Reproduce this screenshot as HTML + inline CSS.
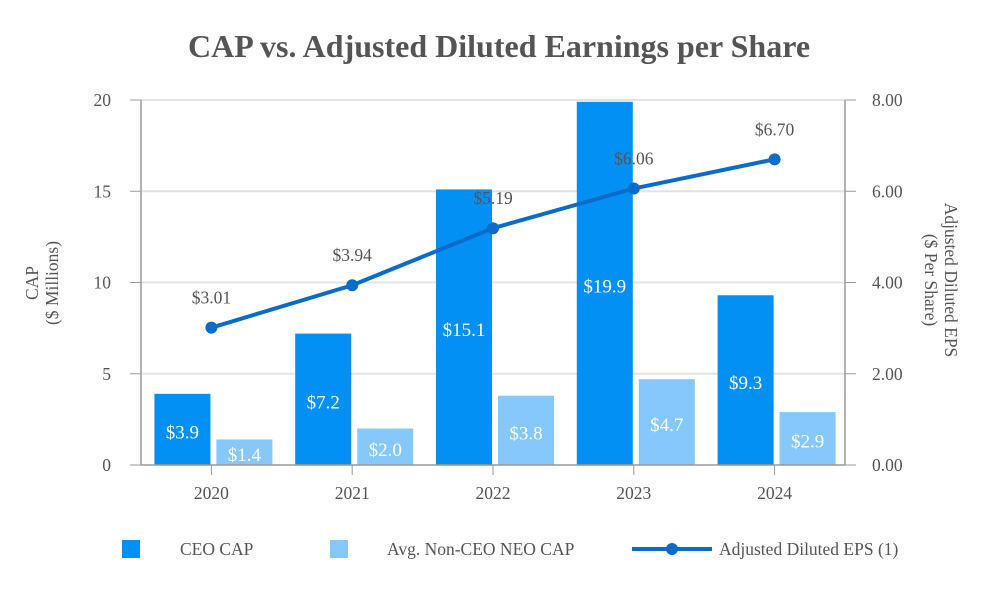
<!DOCTYPE html>
<html><head><meta charset="utf-8"><style>
body{margin:0;background:#fff;}
svg text{font-family:"Liberation Serif",serif;}
</style></head><body>
<svg id="chart" width="1000" height="600">
<text x="499" y="57" text-anchor="middle" font-size="32" font-weight="bold" fill="#555">CAP vs. Adjusted Diluted Earnings per Share</text>
<g id="grid"></g>
<g id="bars"></g>
<g id="line"></g>
<g id="axes"></g>
<text transform="translate(42,283) rotate(-90)" text-anchor="middle" font-size="17.5" fill="#555"><tspan x="0" dy="-4">CAP</tspan><tspan x="0" dy="20">($ Millions)</tspan></text>
<text transform="translate(945,280) rotate(90)" text-anchor="middle" font-size="17.5" fill="#555"><tspan x="0" dy="0">Adjusted Diluted EPS</tspan><tspan x="0" dy="20">($ Per Share)</tspan></text>
<g>
<rect x="122" y="540" width="18" height="18" fill="#0390f5"/>
<text x="180" y="555" font-size="17.5" fill="#555">CEO CAP</text>
<rect x="330" y="540" width="18" height="18" fill="#86c8fb"/>
<text x="387" y="555" font-size="17.5" fill="#555">Avg. Non-CEO NEO CAP</text>
<line x1="632" y1="549" x2="712" y2="549" stroke="#0a6bc9" stroke-width="4"/>
<circle cx="672" cy="549" r="6" fill="#0a6bc9"/>
<text x="719" y="555" font-size="17.5" fill="#555">Adjusted Diluted EPS (1)</text>
</g>
</svg>
<script>
const categories=["2020","2021","2022","2023","2024"];
const ceoCap=[3.9,7.2,15.1,19.9,9.3];
const neoCap=[1.4,2.0,3.8,4.7,2.9];
const eps=[3.01,3.94,5.19,6.06,6.70];
const leftTicks=[0,5,10,15,20];
const rightTicks=["0.00","2.00","4.00","6.00","8.00"];
const NS="http://www.w3.org/2000/svg";
const X0=141,X1=845,Y0=465,Y1=100;
const step=(X1-X0)/categories.length;
const xc=i=>X0+step*(i+0.5);
const yL=v=>Y0-(v/20)*(Y0-Y1);
const yR=v=>Y0-(v/8)*(Y0-Y1);
function el(tag,attrs,parent,text){const e=document.createElementNS(NS,tag);for(const k in attrs)e.setAttribute(k,attrs[k]);if(text!=null)e.textContent=text;document.getElementById(parent).appendChild(e);return e;}
leftTicks.forEach((t,i)=>{
 const y=yL(t);
 if(t>0){const g=el('line',{x1:X0,x2:X1,y1:y,y2:y,stroke:'#e3e3e3','stroke-width':2},'grid');
 
 }
 const tk=el('line',{x1:X0-11,x2:X0,y1:y,y2:y,stroke:'#999','stroke-width':1},'axes');
 
 
 const l=el('text',{x:X0-30,y:y+6,'text-anchor':'end','font-size':17.5,fill:'#555'},'axes',t);
 
 
});
rightTicks.forEach((t)=>{
 const y=yR(parseFloat(t));
 const tk=el('line',{x1:X1,x2:X1+11,y1:y,y2:y,stroke:'#999','stroke-width':1},'axes');
 
 
 const l=el('text',{x:X1+27,y:y+6,'font-size':17.5,fill:'#555'},'axes',t);
 
 
});
const bw=56,gap=6;
categories.forEach((c,i)=>{
 const cx=xc(i);
 const r1=el('rect',{x:cx-bw-1,y:yL(ceoCap[i]),width:bw,height:Y0-yL(ceoCap[i]),fill:'#0390f5'},'bars');
 
 
 const t1=el('text',{x:cx-bw/2-1,y:(yL(ceoCap[i])+Y0)/2+9,'text-anchor':'middle','font-size':19,fill:'#fff'},'bars','$'+ceoCap[i].toFixed(1));
 
 
 const r2=el('rect',{x:cx+gap-1,y:yL(neoCap[i]),width:bw,height:Y0-yL(neoCap[i]),fill:'#86c8fb'},'bars');
 
 
 const t2=el('text',{x:cx+gap-1+bw/2,y:(yL(neoCap[i])+Y0)/2+9,'text-anchor':'middle','font-size':19,fill:'#fff'},'bars','$'+neoCap[i].toFixed(1));
 
 
 const tk=el('line',{x1:cx,x2:cx,y1:Y0,y2:Y0+10,stroke:'#999'},'axes');
 
 
 const xl=el('text',{x:cx,y:Y0+34,'text-anchor':'middle','font-size':17.5,fill:'#555'},'axes',c);
 
 
});
const ax=[[X0,Y1,X0,Y0],[X1,Y1,X1,Y0],[X0,Y0,X1,Y0]];
ax.forEach(a=>{const l=el('line',{x1:a[0],y1:a[1],x2:a[2],y2:a[3],stroke:'#999','stroke-width':1.5},'axes');
 
 });
const pts=eps.map((v,i)=>xc(i)+','+yR(v)).join(' ');
const pl=el('polyline',{points:pts,fill:'none',stroke:'#0a6bc9','stroke-width':4},'line');


eps.forEach((v,i)=>{
 const c=el('circle',{cx:xc(i),cy:yR(v),r:6,fill:'#0a6bc9'},'line');
 
 
 const t=el('text',{x:xc(i),y:yR(v)-24,'text-anchor':'middle','font-size':17.5,fill:'#555'},'line','$'+v.toFixed(2));
 
 
});
</script>
</body></html>
